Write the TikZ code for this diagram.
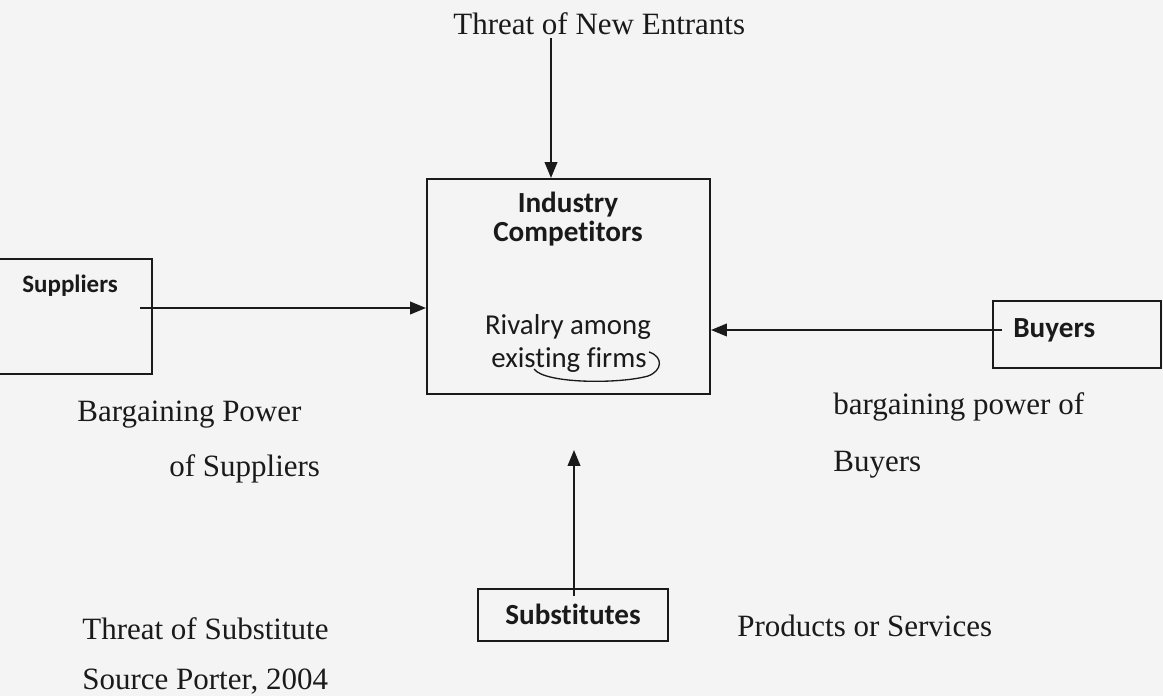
\documentclass[tikz,border=0pt]{standalone}
\usepackage{fontspec}
\setmainfont{Liberation Serif}
\newfontfamily\sansf[Ligatures={NoCommon,NoRequired,NoContextual}]{Carlito}
\usetikzlibrary{arrows.meta,fit}
\definecolor{bg}{HTML}{F4F4F4}
\definecolor{ink}{HTML}{1A1A1A}
\begin{document}
\begin{tikzpicture}[x=0.6pt,y=-0.6pt,
  box/.style={draw=ink,line width=1.2pt,inner sep=0pt},
  arr/.style={draw=ink,line width=1.2pt,-{Triangle[length=9.5pt,width=7.5pt]}},
  serif/.style={inner sep=0pt,anchor=base west,text=ink,font=\fontsize{18.6}{22}\selectfont},
  sanslbl/.style={inner sep=0pt,anchor=base,text=ink,font=\sansf\bfseries\fontsize{17.5}{21}\selectfont},
  sansreg/.style={inner sep=0pt,anchor=base,text=ink,font=\sansf\fontsize{17.3}{21}\selectfont}]
\fill[bg] (0,0) rectangle (1163,696);
\useasboundingbox (0,0) rectangle (1163,696);

% boxes
\node[box,fit={(427,179)(710,394)}] (ind) {};
\node[box,fit={(-6,259)(152,374)}] (sup) {};
\node[box,fit={(993,301)(1161,368)}] (buy) {};
\node[box,fit={(478,589)(668,641)}] (sub) {};

% box texts
\node[sanslbl] (indt1) at (568,213) {Industry};
\node[sanslbl] (indt2) at (568,242) {Competitors};
\node[sansreg] (riv1) at (568,335) {Rivalry among};
\node[sansreg] (riv2) at (569,368) {existing firms};
\node[sanslbl,anchor=base west,font=\sansf\bfseries\fontsize{15}{18}\selectfont] (supt) at (22,293) {Suppliers};
\node[sanslbl,anchor=base west] (buyt) at (1013,338) {Buyers};
\node[sanslbl,anchor=base west] (subt) at (505,624) {Substitutes};

% labels
\node[serif] (tne) at (453,35) {Threat of New Entrants};
\node[serif] (bps1) at (77,422) {Bargaining Power};
\node[serif] (bps2) at (169,477) {of Suppliers};
\node[serif] (bpb1) at (833,415) {bargaining power of};
\node[serif] (bpb2) at (833,472) {Buyers};
\node[serif] (tos) at (82,639) {Threat of Substitute};
\node[serif] (pos) at (737,636) {Products or Services};
\node[serif] (src) at (82,689) {Source Porter, 2004};

% connectors
\coordinate (ntop) at (551,38);
\draw[arr] (ntop) -- (ntop |- ind.north);
\coordinate (sa) at (140,308);
\draw[arr] (sa) -- (sa -| ind.west);
\coordinate (ba) at (1002,330);
\draw[arr] (ba) -- (ba -| ind.east);
\coordinate (st) at (574,450);
\draw[arr] ([yshift=-5pt]st |- sub.north) -- (st);

% hand-drawn swoosh
\draw[ink,line width=0.8pt] (534,369) .. controls (545,384) and (620,384) .. (648,376)
  .. controls (662,371) and (664,357) .. (649,352);
\end{tikzpicture}
\end{document}
